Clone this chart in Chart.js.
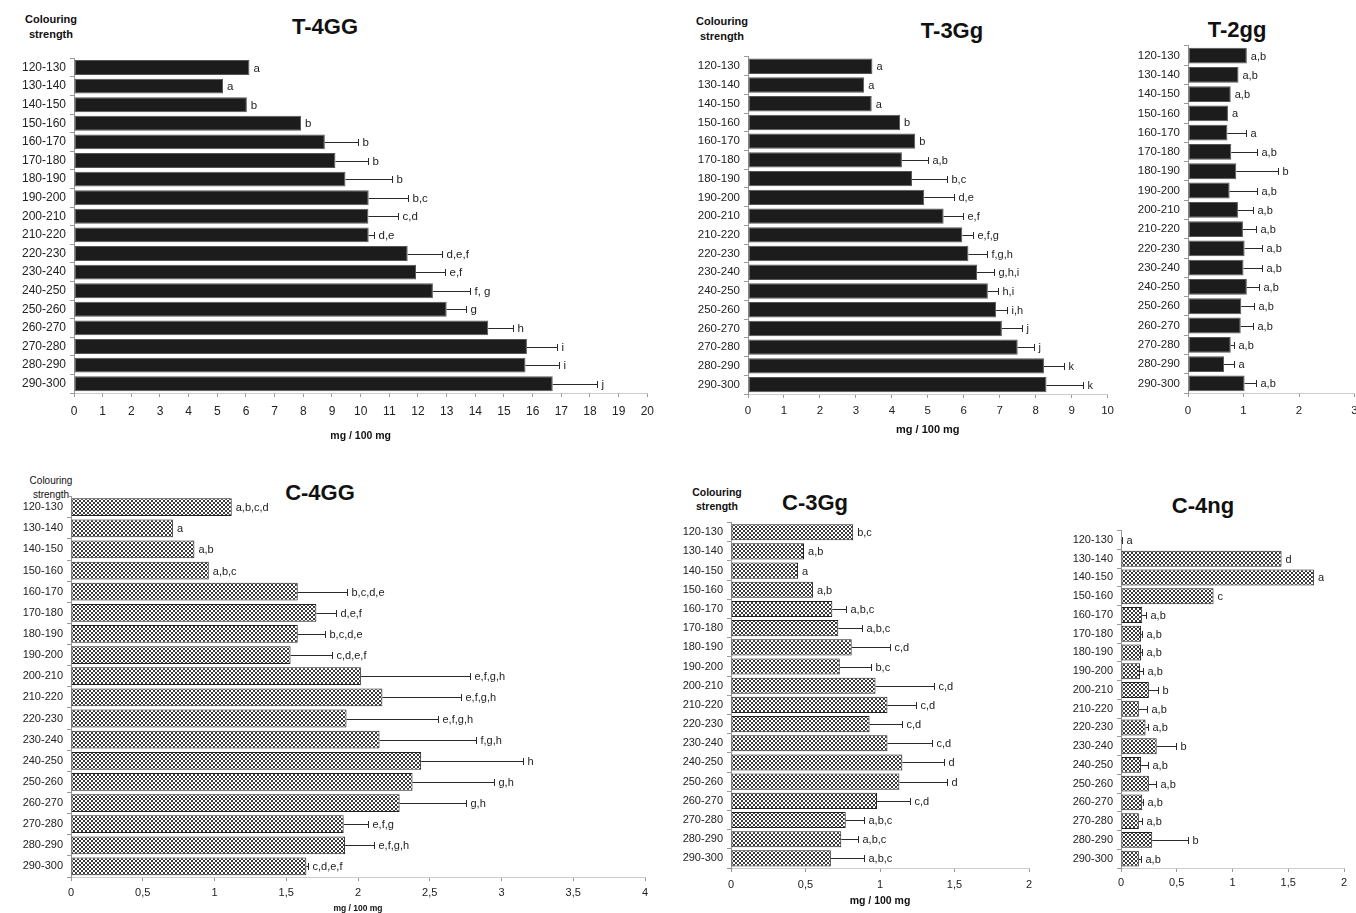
<!DOCTYPE html>
<html>
<head>
<meta charset="utf-8">
<script src="https://cdn.jsdelivr.net/npm/chart.js@4"></script>
<style>
  html, body { margin:0; padding:0; background:#fff; overflow:hidden; }
  body { width:1356px; height:913px; position:relative; font-family:"Liberation Sans", Arial, sans-serif; color:#111; }
  .box { position:absolute; }
  .t { position:absolute; transform:translate(-50%,-50%); white-space:nowrap; }
  .ttl { font-weight:bold; font-size:22px; }
  .cs { font-weight:bold; font-size:11px; line-height:15px; text-align:center; }
</style>
</head>
<body>

<div class="t cs" style="left:51px;top:27px;">Colouring<br>strength</div>
<div class="t ttl" style="left:325px;top:27px;">T-4GG</div>
<div class="t cs" style="left:722px;top:29px;">Colouring<br>strength</div>
<div class="t ttl" style="left:952px;top:31px;">T-3Gg</div>
<div class="t ttl" style="left:1237px;top:30px;">T-2gg</div>

<div class="t cs" style="left:51px;top:488px;font-weight:normal;font-size:10px;line-height:14px;">Colouring<br>strength</div>
<div class="t ttl" style="left:320px;top:493px;">C-4GG</div>
<div class="t cs" style="left:717px;top:499px;font-size:10.5px;line-height:14px;">Colouring<br>strength</div>
<div class="t ttl" style="left:815px;top:503px;">C-3Gg</div>
<div class="t ttl" style="left:1203px;top:506px;">C-4ng</div>

<div class="box" style="left:12px;top:47px;width:649px;height:398px;"><canvas id="t4gg"></canvas></div>
<div class="box" style="left:686px;top:46px;width:434px;height:394px;"><canvas id="t3gg"></canvas></div>
<div class="box" style="left:1126px;top:35px;width:240px;height:388px;"><canvas id="t2gg"></canvas></div>
<div class="box" style="left:9px;top:486px;width:648px;height:431px;"><canvas id="c4gg"></canvas></div>
<div class="box" style="left:669px;top:512px;width:372px;height:399px;"><canvas id="c3gg"></canvas></div>
<div class="box" style="left:1059px;top:520px;width:297px;height:376px;"><canvas id="c4ng"></canvas></div>

<script>
Chart.defaults.font.family = '"Liberation Sans", Arial, sans-serif';
Chart.defaults.color = '#222';

// colouring strength classes
var categories = ['120-130','130-140','140-150','150-160','160-170','170-180','180-190','190-200','200-210',
                  '210-220','220-230','230-240','240-250','250-260','260-270','270-280','280-290','290-300'];

// T-4GG
var t4ggMean = [6.12, 5.2, 6.03, 7.92, 8.75, 9.12, 9.47, 10.28, 10.27, 10.28, 11.64, 11.93, 12.52, 13.0, 14.45, 15.8, 15.75, 16.7];
var t4ggErr  = [0, 0, 0, 0, 1.15, 1.13, 1.63, 1.38, 1.03, 0.2, 1.21, 1.0, 1.28, 0.68, 0.88, 1.06, 1.18, 1.55];
var t4ggSig  = ['a','a','b','b','b','b','b','b,c','c,d','d,e','d,e,f','e,f','f, g','g','h','i','i','j'];

// T-3Gg
var t3ggMean = [3.46, 3.23, 3.44, 4.23, 4.65, 4.28, 4.56, 4.9, 5.44, 5.96, 6.13, 6.37, 6.67, 6.9, 7.06, 7.5, 8.23, 8.3];
var t3ggErr  = [0, 0, 0, 0, 0, 0.73, 0.98, 0.82, 0.53, 0.29, 0.52, 0.48, 0.29, 0.3, 0.57, 0.46, 0.57, 1.02];
var t3ggSig  = ['a','a','a','b','b','a,b','b,c','d,e','e,f','e,f,g','f,g,h','g,h,i','h,i','i,h','j','j','k','k'];

// T-2gg
var t2ggMean = [1.06, 0.91, 0.77, 0.72, 0.71, 0.78, 0.87, 0.75, 0.9, 0.99, 1.02, 1.0, 1.06, 0.96, 0.95, 0.77, 0.65, 1.02];
var t2ggErr  = [0, 0, 0, 0, 0.33, 0.47, 0.76, 0.5, 0.27, 0.23, 0.32, 0.33, 0.22, 0.23, 0.22, 0.05, 0.18, 0.2];
var t2ggSig  = ['a,b','a,b','a,b','a','a','a,b','b','a,b','a,b','a,b','a,b','a,b','a,b','a,b','a,b','a,b','a','a,b'];

// C-4GG
var c4ggMean = [1.12, 0.71, 0.86, 0.96, 1.58, 1.71, 1.58, 1.53, 2.02, 2.17, 1.92, 2.15, 2.44, 2.38, 2.29, 1.9, 1.91, 1.64];
var c4ggErr  = [0, 0, 0, 0, 0.34, 0.14, 0.19, 0.29, 0.76, 0.55, 0.64, 0.67, 0.71, 0.57, 0.46, 0.17, 0.2, 0.01];
var c4ggSig  = ['a,b,c,d','a','a,b','a,b,c','b,c,d,e','d,e,f','b,c,d,e','c,d,e,f','e,f,g,h','e,f,g,h','e,f,g,h',
                'f,g,h','h','g,h','g,h','e,f,g','e,f,g,h','c,d,e,f'];

// C-3Gg
var c3ggMean = [0.82, 0.49, 0.45, 0.55, 0.68, 0.72, 0.81, 0.73, 0.97, 1.05, 0.93, 1.05, 1.15, 1.13, 0.98, 0.77, 0.74, 0.67];
var c3ggErr  = [0, 0, 0, 0, 0.09, 0.16, 0.26, 0.21, 0.39, 0.19, 0.22, 0.3, 0.28, 0.32, 0.22, 0.12, 0.11, 0.22];
var c3ggSig  = ['b,c','a,b','a','a,b','a,b,c','a,b,c','c,d','b,c','c,d','c,d','c,d','c,d','d','d','c,d','a,b,c','a,b,c','a,b,c'];

// C-4ng
var c4ngMean = [0.005, 1.44, 1.73, 0.83, 0.19, 0.18, 0.18, 0.17, 0.25, 0.16, 0.22, 0.32, 0.18, 0.25, 0.19, 0.16, 0.28, 0.16];
var c4ngErr  = [0.005, 0, 0, 0, 0.03, 0.01, 0.01, 0.03, 0.08, 0.07, 0.02, 0.17, 0.06, 0.06, 0.01, 0.03, 0.32, 0.02];
var c4ngSig  = ['a','d','a','c','a,b','a,b','a,b','a,b','b','a,b','a,b','b','a,b','a,b','a,b','a,b','b','a,b'];


function checker(){
    var c = document.createElement('canvas');
    c.width = 4; c.height = 4;
    var g = c.getContext('2d');
    g.fillStyle = '#fff'; g.fillRect(0, 0, 4, 4);
    g.fillStyle = '#3a3a3a';
    g.fillRect(0, 0, 2, 2); g.fillRect(2, 2, 2, 2);
    return g.createPattern(c, 'repeat');
}

// error bar + letter plugin, one per chart
function errorPlugin(mean, err, sig, fontSize){
    return {
        id: 'errorBars',
        afterDatasetsDraw: function(chart){
            var x = chart.scales.x, y = chart.scales.y, ctx = chart.ctx;
            ctx.save();
            ctx.strokeStyle = '#2a2a2a';
            ctx.lineWidth = 1;
            ctx.fillStyle = '#222';
            ctx.font = fontSize + 'px "Liberation Sans", Arial, sans-serif';
            ctx.textBaseline = 'middle';
            mean.forEach(function(v, i){
                var yc = Math.round(y.getPixelForValue(i)) + 0.5;
                var end = x.getPixelForValue(v);
                if (err[i] > 0){
                    var x1 = Math.round(x.getPixelForValue(v + err[i])) + 0.5;
                    ctx.beginPath();
                    ctx.moveTo(end, yc); ctx.lineTo(x1, yc);
                    ctx.moveTo(x1, yc - 3.5); ctx.lineTo(x1, yc + 3.5);
                    ctx.stroke();
                    end = x1;
                }
                ctx.fillText(sig[i], end + 4, yc);
            });
            ctx.restore();
        }
    };
}

function makePanel(id, p){
    new Chart(document.getElementById(id).getContext('2d'), {
        type: 'bar',
        data: {
            labels: categories,
            datasets: [{
                data: p.mean,
                backgroundColor: p.fill,
                borderColor: p.border,
                borderWidth: 1,
                borderSkipped: false,
                barPercentage: p.bar,
                categoryPercentage: 1
            }]
        },
        options: {
            indexAxis: 'y',
            responsive: true,
            maintainAspectRatio: false,
            animation: false,
            layout: { padding: { top: 10, right: p.right, bottom: 0, left: 0 } },
            plugins: { legend: { display: false }, tooltip: { enabled: false } },
            scales: {
                x: {
                    min: 0, max: p.max,
                    ticks: {
                        stepSize: p.step, autoSkip: false, maxRotation: 0, padding: p.tickPad,
                        color: '#222', font: { size: p.fs },
                        callback: function(v){ return String(v).replace('.', ','); }
                    },
                    grid: { drawOnChartArea: false, drawTicks: true, tickLength: 4, color: '#999' },
                    border: { color: '#ccc' },
                    title: {
                        display: !!p.titleSize, text: 'mg / 100 mg', color: '#111',
                        font: { size: p.titleSize || 10, weight: 'bold' },
                        padding: { top: 0, bottom: p.titlePad || 0 }
                    },
                    afterFit: function(s){ s.height = p.xH; }
                },
                y: {
                    ticks: { autoSkip: false, color: '#222', font: { size: p.fs }, padding: 4 },
                    grid: { drawOnChartArea: false, tickLength: 4, color: '#999', offset: true },
                    border: { color: '#999' },
                    afterFit: function(s){ s.width = 62; }
                }
            }
        },
        plugins: [errorPlugin(p.mean, p.err, p.sig, p.lfs)]
    });
}

var pat = checker();

makePanel('t4gg', { mean: t4ggMean, err: t4ggErr, sig: t4ggSig, fill: '#1c1c1c', border: '#555', bar: 0.8,
    max: 20, step: 1, right: 12, fs: 12, lfs: 11.5, tickPad: 7, xH: 52, titleSize: 10.5, titlePad: 3 });
makePanel('t3gg', { mean: t3ggMean, err: t3ggErr, sig: t3ggSig, fill: '#1c1c1c', border: '#555', bar: 0.82,
    max: 10, step: 1, right: 12, fs: 11.5, lfs: 11, tickPad: 6, xH: 46, titleSize: 11, titlePad: 3.4 });
makePanel('t2gg', { mean: t2ggMean, err: t2ggErr, sig: t2ggSig, fill: '#1c1c1c', border: '#555', bar: 0.82,
    max: 3, step: 1, right: 11.5, fs: 11.5, lfs: 11, tickPad: 7, xH: 30 });
makePanel('c4gg', { mean: c4ggMean, err: c4ggErr, sig: c4ggSig, fill: pat, border: '#222', bar: 0.84,
    max: 4, step: 0.5, right: 12, fs: 11, lfs: 11, tickPad: 5, xH: 40, titleSize: 8.5, titlePad: 3.4 });
makePanel('c3gg', { mean: c3ggMean, err: c3ggErr, sig: c3ggSig, fill: pat, border: '#222', bar: 0.84,
    max: 2, step: 0.5, right: 12, fs: 11, lfs: 11, tickPad: 6, xH: 43, titleSize: 10.5, titlePad: 3.2 });
makePanel('c4ng', { mean: c4ngMean, err: c4ngErr, sig: c4ngSig, fill: pat, border: '#222', bar: 0.85,
    max: 2, step: 0.5, right: 12, fs: 11, lfs: 11, tickPad: 4, xH: 28 });
</script>
</body>
</html>
